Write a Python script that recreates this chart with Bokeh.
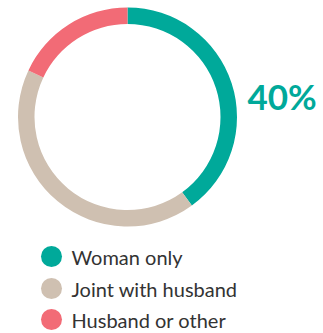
import math
from bokeh.plotting import figure
from bokeh.models import Range1d
from bokeh.core.properties import value
from bokeh.embed import file_html
from bokeh.resources import INLINE

categories = ["Woman only", "Joint with husband", "Husband or other"]
shares = [40, 42, 18]
colors = ["#00A99A", "#CFC0B1", "#F26B76"]
headline = "40%"

W, H = 323, 333
p = figure(width=W, height=H, output_backend="svg", toolbar_location=None,
           x_range=Range1d(0, W), y_range=Range1d(0, H),
           min_border=0)
p.axis.visible = False
p.grid.visible = False
p.outline_line_color = None
p.background_fill_color = "white"
p.border_fill_color = "white"

cx, cy = 127, H - 116.5
total = sum(shares)
cum = 0
for s, c in zip(shares, colors):
    a0 = math.pi / 2 - 2 * math.pi * cum / total
    cum += s
    a1 = math.pi / 2 - 2 * math.pi * cum / total
    p.annular_wedge(x=cx, y=cy, inner_radius=93, outer_radius=109.5,
                    start_angle=a0, end_angle=a1, direction="clock",
                    fill_color=c, line_color=None)

p.text(x=[247], y=[H - 95], text=[headline], text_font=value("Lato"),
       text_font_style="bold", text_font_size="35px", text_color=colors[0],
       text_baseline="middle", text_align="left")

ys = [256, 288, 319]
for cat, c, yy in zip(categories, colors, ys):
    p.scatter(x=[51], y=[H - yy], size=21, fill_color=c, line_color=None)
    p.text(x=[71], y=[H - yy], text=[cat], text_font=value("Lato"),
           text_font_size="20px", text_color="#333333",
           text_baseline="middle", text_align="left")

open("out.html", "w").write(file_html(p, INLINE))
